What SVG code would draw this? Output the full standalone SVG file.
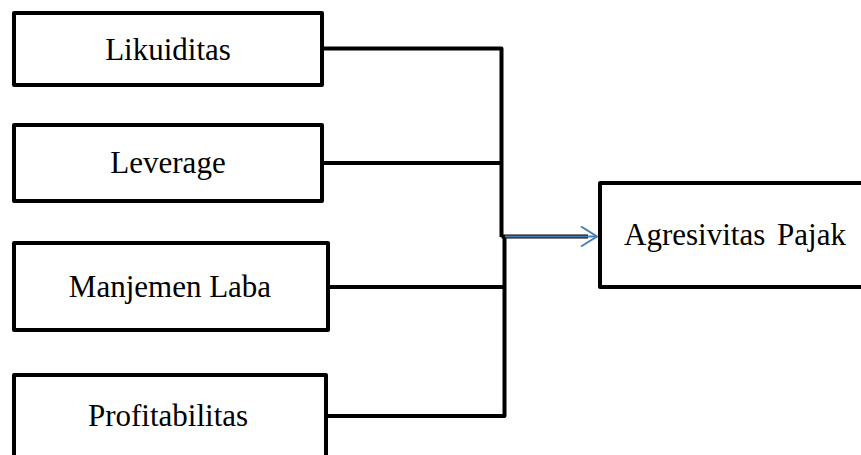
<svg xmlns="http://www.w3.org/2000/svg" width="861" height="455" viewBox="0 0 861 455">
<style>
.box{fill:#fff;stroke:#000;stroke-width:4;stroke-linejoin:round}
.lbl{font-family:"Liberation Serif","Times New Roman",serif;font-size:31px;fill:#000;text-anchor:middle}
.con{fill:none;stroke:#000;stroke-width:4;stroke-linejoin:round}
</style>
<defs>
<marker id="arr" markerUnits="userSpaceOnUse" markerWidth="20" markerHeight="24" refX="17" refY="11" orient="auto">
<path d="M1,1 L17,11 L1,21" fill="none" stroke="#4a7ebb" stroke-width="2"/>
</marker>
</defs>
<g id="connectors">
<path class="con" d="M322,48.5 H501.5 V237"/>
<path class="con" d="M322,163 H501.5"/>
<path class="con" d="M504.5,237 V416 H326"/>
<path class="con" d="M328,287 H504.5"/>
<path class="con" d="M501.5,236.5 H588"/>
<line x1="505" y1="236.5" x2="597" y2="236.5" stroke="#4a7ebb" stroke-width="2" marker-end="url(#arr)"/>
</g>
<g id="likuiditas">
<rect class="box" x="14" y="13" width="308" height="72"/>
<text class="lbl" x="168" y="60">Likuiditas</text>
</g>
<g id="leverage">
<rect class="box" x="14" y="125" width="308" height="76"/>
<text class="lbl" x="168" y="173">Leverage</text>
</g>
<g id="manjemen-laba">
<rect class="box" x="14" y="243" width="314" height="87"/>
<text class="lbl" x="170" y="297">Manjemen Laba</text>
</g>
<g id="profitabilitas">
<rect class="box" x="14" y="375" width="312" height="90"/>
<text class="lbl" x="168" y="426">Profitabilitas</text>
</g>
<g id="agresivitas-pajak">
<rect class="box" x="600" y="183" width="275" height="104"/>
<text class="lbl" x="735" y="245" word-spacing="4">Agresivitas Pajak</text>
</g>
</svg>
